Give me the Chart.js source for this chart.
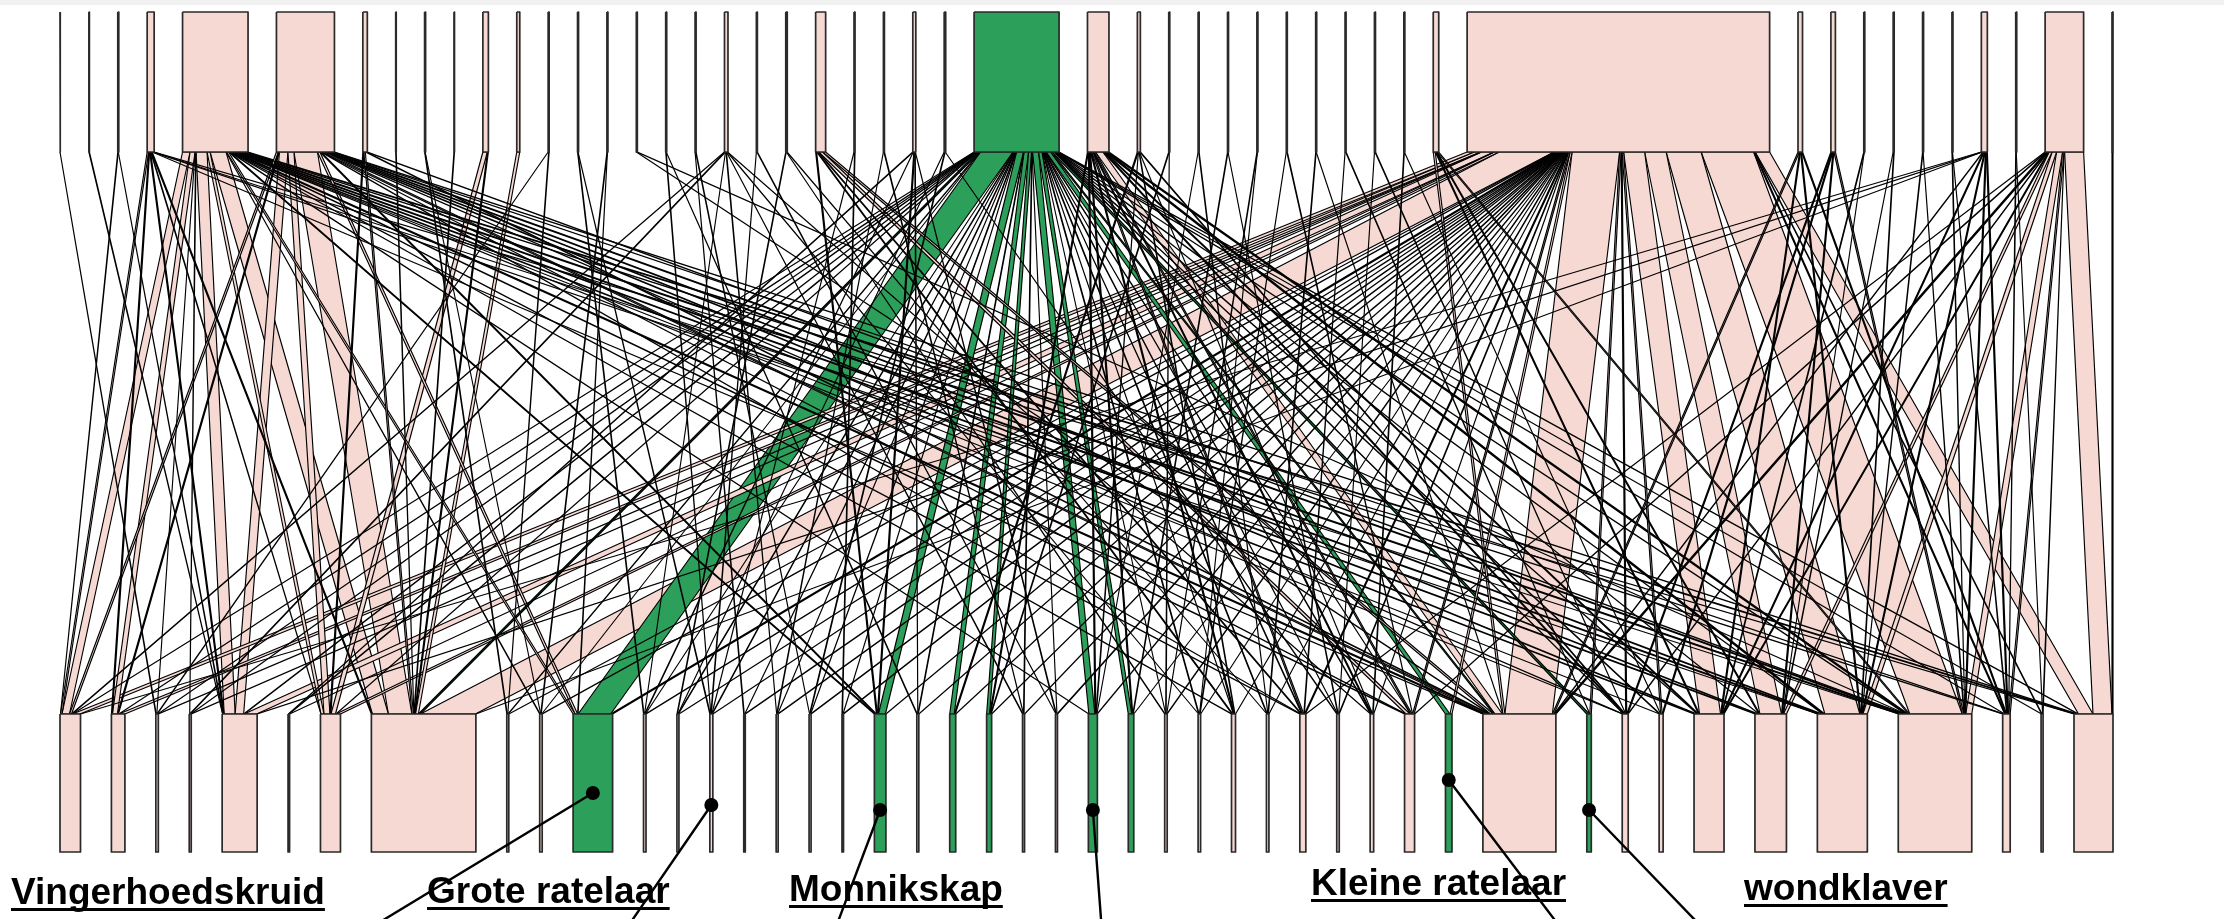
<!DOCTYPE html>
<html><head><meta charset="utf-8">
<script src="https://cdn.jsdelivr.net/npm/chart.js@4.4.0/dist/chart.umd.min.js"></script>
<style>html,body{margin:0;padding:0;background:#fff;overflow:hidden}#wrap{position:relative;width:2224px;height:919px}</style>
</head><body><div id="wrap"><canvas id="c"></canvas></div>
<script>
// ---------- DATA ----------
// interaction list: [upper-level node, lower-level node, number of visits]
const links = [
[1,3,1],
[2,5,1],
[3,1,1],[3,5,1],
[4,1,3],[4,2,2],[4,5,2],[4,7,1],[4,8,2],[4,36,1],[4,42,1],[4,43,1],[4,46,1],
[5,1,15],[5,2,10],[5,3,1],[5,4,1],[5,5,22],[5,7,6],[5,8,32],[5,10,1],[5,11,4],[5,19,2],[5,25,1],[5,29,1],[5,31,1],[5,34,2],[5,36,5],[5,38,1],[5,39,1],[5,40,3],[5,41,4],[5,42,5],[5,43,6],[5,44,2],[5,46,5],
[6,1,4],[6,2,2],[6,5,17],[6,7,12],[6,8,47],[6,11,5],[6,19,2],[6,31,1],[6,34,1],[6,36,6],[6,38,1],[6,40,3],[6,41,3],[6,42,4],[6,43,5],[6,44,1],[6,46,2],
[7,7,2],[7,8,3],[7,36,2],[7,43,2],
[8,8,1],
[9,9,1],[9,10,1],
[10,8,1],
[11,7,9],[11,8,2],
[12,8,6],
[13,3,1],[13,9,1],
[14,12,1],[14,14,1],
[15,10,1],[15,11,1],
[16,36,1],[16,43,1],
[17,14,1],[17,20,1],
[18,15,1],[18,17,1],
[19,1,1],[19,4,1],[19,12,1],[19,16,1],[19,23,1],[19,28,1],[19,33,1],
[20,14,1],[20,24,1],
[21,13,1],[21,27,1],[21,30,1],
[22,19,2],[22,29,2],[22,31,2],[22,34,8],[22,36,6],
[23,14,1],[23,18,1],
[24,16,1],[24,23,1],
[25,6,1],[25,12,1],[25,19,2],[25,20,1],[25,24,1],
[26,13,1],[26,17,1],[26,32,1],
[27,1,1],[27,2,1],[27,3,1],[27,4,1],[27,5,1],[27,6,1],[27,7,1],[27,8,4],[27,9,1],[27,10,1],[27,11,65],[27,12,1],[27,13,1],[27,14,1],[27,15,1],[27,16,1],[27,17,1],[27,18,1],[27,19,14],[27,20,1],[27,21,9],[27,22,6],[27,23,1],[27,24,1],[27,25,12],[27,26,7],[27,27,1],[27,28,1],[27,29,1],[27,30,1],[27,31,1],[27,32,1],[27,33,1],[27,34,1],[27,35,9],[27,36,3],[27,37,5],[27,38,1],[27,39,1],[27,40,1],[27,41,1],[27,42,1],[27,43,1],[27,44,1],[27,45,1],[27,46,1],
[28,22,2],[28,25,2],[28,26,2],[28,29,2],[28,31,3],[28,33,2],[28,34,3],[28,36,15],[28,38,2],[28,40,2],[28,42,4],[28,43,4],
[29,21,2],[29,25,1],[29,29,1],[29,33,1],[29,38,1],
[30,22,1],[30,27,1],
[31,25,1],[31,30,1],
[32,26,1],[32,32,1],
[33,27,1],[33,28,1],
[34,28,1],[34,34,1],
[35,30,1],[35,36,1],
[36,31,1],[36,37,1],
[37,32,1],[37,38,1],
[38,33,1],[38,39,1],
[39,36,4],[39,40,2],[39,41,2],[39,43,3],
[40,1,15],[40,2,12],[40,3,1],[40,4,1],[40,5,25],[40,6,1],[40,7,9],[40,8,110],[40,9,1],[40,10,1],[40,11,4],[40,12,1],[40,13,1],[40,14,1],[40,15,1],[40,16,1],[40,17,1],[40,18,1],[40,19,1],[40,20,1],[40,21,1],[40,22,1],[40,23,1],[40,24,1],[40,25,1],[40,26,1],[40,27,1],[40,28,1],[40,29,1],[40,30,1],[40,31,2],[40,32,1],[40,33,1],[40,34,3],[40,35,4],[40,36,95],[40,37,3],[40,38,2],[40,39,3],[40,40,42],[40,41,43],[40,42,70],[40,43,105],[40,44,2],[40,45,1],[40,46,29],
[41,36,3],[41,40,2],[41,42,2],[41,44,2],
[42,38,2],[42,39,2],[42,41,2],[42,43,3],
[43,40,1],[43,41,1],
[44,41,1],[44,42,1],
[45,42,1],[45,43,1],
[46,43,1],[46,44,1],
[47,1,1],[47,5,1],[47,8,1],[47,36,1],[47,40,2],[47,42,2],[47,43,2],[47,44,2],
[48,44,1],[48,45,1],
[49,31,1],[49,34,1],[49,36,3],[49,38,1],[49,40,2],[49,41,6],[49,42,9],[49,43,12],[49,44,3],[49,45,1],[49,46,38],
[50,46,2]
];
const highlightUpper = [27];
const highlightLower = [11,19,21,22,25,26,35,37];
const labelTexts = ['Vingerhoedskruid','Grote ratelaar','Monnikskap','Kleine ratelaar','wondklaver'];
const pointerNodes = [11,14,19,25,35,37];

// ---------- STYLE / LAYOUT ----------
const W = 2224, H = 919;
const UNIT_PX = 0.5, LEFT = 60, RIGHT = 2113;
const Y_TOP0 = 12, Y_TOP1 = 152, Y_BOT0 = 714, Y_BOT1 = 852;
const PINK = '#F6D9D3', GREEN = '#2CA05A', EDGE = '#000000', BOX_EDGE = '#2a2a2a';
const labelPos = [[11,904],[427,903],[789,901],[1311,895],[1744,900]];
const pointerFoot = [[385,919],[633,919],[839,919],[1101,919],[1554,919],[1694,919]];
const pointerDotY = [793,805,810,810,780,810];

const nTop = Math.max(...links.map(l=>l[0]));
const nBot = Math.max(...links.map(l=>l[1]));
const topSum = new Array(nTop+1).fill(0), botSum = new Array(nBot+1).fill(0);
links.forEach(([t,b,n])=>{topSum[t]+=n; botSum[b]+=n;});
const total = topSum.reduce((a,b)=>a+b,0);
const span = (RIGHT-LEFT)/UNIT_PX;
const gapTop = (span-total)/(nTop-1), gapBot = (span-total)/(nBot-1);
const topStart = [], botStart = [];
let acc = 0; for (let i=1;i<=nTop;i++){topStart[i]=acc; acc+=topSum[i]+gapTop;}
acc = 0; for (let j=1;j<=nBot;j++){botStart[j]=acc; acc+=botSum[j]+gapBot;}
const topCur = topStart.slice(), botCur = botStart.slice();
const segs = links.map(l=>({t:l[0],b:l[1],n:l[2]}));
segs.slice().sort((a,b)=>a.t-b.t||a.b-b.b).forEach(s=>{s.ta=topCur[s.t]; topCur[s.t]+=s.n;});
segs.slice().sort((a,b)=>a.b-b.b||a.t-b.t).forEach(s=>{s.ba=botCur[s.b]; botCur[s.b]+=s.n;});

function poly(pts, fillCol, order, bw, edge){
  return {data: pts.map(p=>({x:p[0],y:p[1]})), showLine:true, fill:'shape',
    backgroundColor: fillCol, borderColor: edge, borderWidth: bw, pointRadius:0, pointHoverRadius:0,
    borderJoinStyle:'round', order: order, clip:false};
}
const datasets = [];
for (let i=1;i<=nTop;i++){
  const a=topStart[i], b=a+topSum[i];
  datasets.push(poly([[a,Y_TOP0],[b,Y_TOP0],[b,Y_TOP1],[a,Y_TOP1],[a,Y_TOP0]], highlightUpper.includes(i)?GREEN:PINK, 0, 1.7, BOX_EDGE));
}
for (let j=1;j<=nBot;j++){
  const a=botStart[j], b=a+botSum[j];
  datasets.push(poly([[a,Y_BOT0],[b,Y_BOT0],[b,Y_BOT1],[a,Y_BOT1],[a,Y_BOT0]], highlightLower.includes(j)?GREEN:PINK, 0, 1.7, BOX_EDGE));
}
segs.slice().sort((a,b)=>a.n-b.n).forEach(s=>{
  const col = highlightUpper.includes(s.t) ? GREEN : PINK;
  datasets.push(poly([[s.ta,Y_TOP1],[s.ta+s.n,Y_TOP1],[s.ba+s.n,Y_BOT0],[s.ba,Y_BOT0],[s.ta,Y_TOP1]], col, 1, 1.15, EDGE));
});

const annot = {
  id:'annot',
  afterDraw(chart){
    const ctx = chart.ctx, xs = chart.scales.x;
    ctx.save();
    ctx.fillStyle = '#f1f1f1'; ctx.fillRect(0,0,W,5);
    ctx.fillStyle = '#000';
    ctx.font = 'bold 37px "Liberation Sans", Arial, sans-serif';
    ctx.textBaseline = 'alphabetic';
    labelTexts.forEach((t,k)=>{
      const [x,y] = labelPos[k];
      ctx.fillText(t,x,y);
      const w = ctx.measureText(t).width;
      ctx.fillRect(x, y+4, w, 3);
    });
    ctx.strokeStyle = '#000'; ctx.lineWidth = 2.4; ctx.lineCap='round';
    pointerNodes.forEach((j,k)=>{
      const cx = xs.getPixelForValue(botStart[j]+botSum[j]/2);
      const cy = pointerDotY[k];
      const [fx,fy] = pointerFoot[k];
      const ex = fx + (fx-cx)*0.3, ey = fy + (fy-cy)*0.3;
      ctx.beginPath(); ctx.moveTo(cx,cy); ctx.lineTo(ex,ey); ctx.stroke();
      ctx.beginPath(); ctx.arc(cx,cy,7,0,Math.PI*2); ctx.fill();
    });
    ctx.restore();
  }
};

new Chart(document.getElementById('c'), {
  type:'scatter',
  data:{datasets},
  options:{
    responsive:true, maintainAspectRatio:false, animation:false, events:[],
    layout:{padding:0},
    plugins:{legend:{display:false}, tooltip:{enabled:false}},
    scales:{
      x:{type:'linear', display:false, min:-LEFT/UNIT_PX, max:(W-LEFT)/UNIT_PX},
      y:{type:'linear', display:false, min:0, max:H, reverse:true}
    }
  },
  plugins:[annot]
});
</script></body></html>
